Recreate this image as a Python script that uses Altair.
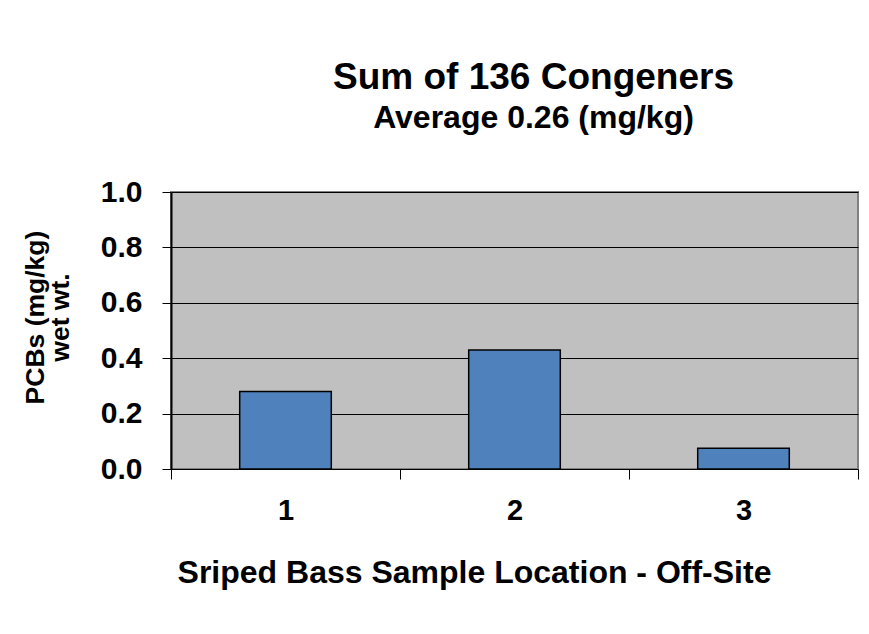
import altair as alt
import pandas as pd

locations = ["1", "2", "3"]
pcbs = [0.28, 0.43, 0.075]
y_ticks = [0.0, 0.2, 0.4, 0.6, 0.8, 1.0]

df = pd.DataFrame({"loc": locations, "pcb": pcbs})
FONT = "Liberation Sans"

bars = alt.Chart(df).mark_bar(
    color="#4F81BD", stroke="black", strokeWidth=1.5,
    width=alt.RelativeBandSize(0.4),
).encode(
    x=alt.X(
        "loc:N",
        sort=locations,
        scale=alt.Scale(paddingInner=0, paddingOuter=0),
        axis=alt.Axis(
            title="Sriped Bass Sample Location - Off-Site",
            titleFont=FONT, titleFontSize=32, titleFontWeight="bold", titleColor="black",
            titleX=303, titleY=113, titleAlign="center", titleBaseline="alphabetic",
            labelFont=FONT, labelFontSize=29, labelFontWeight="bold", labelColor="black",
            labelAngle=0, labelPadding=17,
            tickBand="extent", tickColor="black", tickSize=10, tickWidth=1,
            domain=False, grid=False,
        ),
    ),
    y=alt.Y(
        "pcb:Q",
        scale=alt.Scale(domain=[0, 1], nice=False),
        axis=alt.Axis(
            title=["PCBs (mg/kg)", "wet wt."],
            titleFont=FONT, titleFontSize=26.5, titleFontWeight="bold", titleColor="black",
            titleLineHeight=25, titleAngle=-90, titleX=-136, titleY=125,
            titleAlign="center", titleBaseline="middle",
            values=y_ticks, format=".1f",
            labelFont=FONT, labelFontSize=30, labelFontWeight="bold", labelColor="black",
            labelPadding=20,
            tickColor="black", tickSize=9, tickWidth=1,
            domainColor="black", domainWidth=2,
            gridColor="black", gridWidth=1, gridOpacity=1,
        ),
    ),
)

chart = bars.properties(
    width=687,
    height=277,
    autosize=alt.AutoSizeParams(type="none"),
    padding={"left": 163, "top": 184, "right": 3, "bottom": 157},
    title=alt.Title(
        "Sum of 136 Congeners",
        subtitle="Average 0.26 (mg/kg)",
        font=FONT, fontSize=37, fontWeight="bold", color="black",
        subtitleFont=FONT, subtitleFontSize=32, subtitleFontWeight="bold", subtitleColor="black",
        subtitlePadding=6,
        anchor="middle", frame="group", dx=19, offset=42,
    ),
).configure(
    background="white"
).configure_view(
    fill="#C0C0C0", stroke="#808080", strokeWidth=2
)

chart.save("out.html", embed_options={"renderer": "svg", "actions": False})
